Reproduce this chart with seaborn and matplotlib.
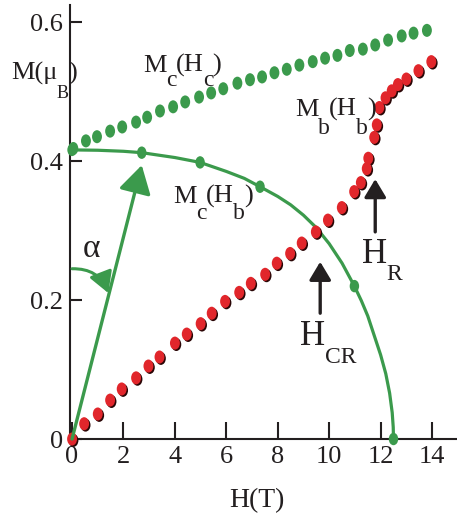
import numpy as np
import pandas as pd
import matplotlib
matplotlib.use("Agg")
import matplotlib.pyplot as plt
import seaborn as sns
from matplotlib.path import Path
from matplotlib.markers import MarkerStyle
from matplotlib import transforms

# ---- data ---------------------------------------------------------------
# M_c measured with field along c
hc_field = [0.05, 0.54, 0.97, 1.48, 1.95, 2.49, 2.92, 3.42, 3.93, 4.40, 4.94,
            5.41, 5.88, 6.43, 6.92, 7.39, 7.87, 8.35, 8.84, 9.36, 9.84, 10.32,
            10.80, 11.31, 11.79, 12.29, 12.82, 13.28, 13.80]
hc_moment = [0.418, 0.429, 0.435, 0.443, 0.449, 0.456, 0.463, 0.472, 0.478,
             0.485, 0.492, 0.498, 0.504, 0.512, 0.517, 0.521, 0.527, 0.532,
             0.538, 0.543, 0.548, 0.552, 0.559, 0.561, 0.567, 0.574, 0.580,
             0.584, 0.588]

# M_b measured with field along b
hb_field = [0.0, 0.47, 1.0, 1.48, 1.93, 2.49, 2.97, 3.40, 4.0, 4.46, 5.0, 5.43,
            5.95, 6.5, 6.95, 7.51, 7.96, 8.48, 8.93, 9.48, 9.95, 10.49, 10.97,
            11.23, 11.46, 11.52, 11.75, 11.85, 11.95, 12.19, 12.43, 12.67,
            13.0, 13.47, 13.97]
hb_moment = [0.0, 0.022, 0.036, 0.056, 0.072, 0.088, 0.105, 0.118, 0.138,
             0.151, 0.166, 0.181, 0.198, 0.211, 0.224, 0.237, 0.253, 0.267,
             0.282, 0.298, 0.315, 0.333, 0.356, 0.369, 0.389, 0.404, 0.434,
             0.452, 0.477, 0.491, 0.501, 0.510, 0.518, 0.530, 0.543]

# M_c component while the field is along b: guide curve and its points
mcb_curve_field = [0.0, 1.0, 2.0, 2.71, 4.0, 4.98, 6.0, 6.7, 7.31, 8.0, 8.5,
                   9.0, 9.5, 10.0, 10.5, 10.98, 11.25, 11.5, 11.75, 12.0,
                   12.2, 12.35, 12.45, 12.49, 12.5]
mcb_curve_moment = [0.416, 0.4155, 0.414, 0.412, 0.405, 0.398, 0.385, 0.375,
                    0.363, 0.349, 0.337, 0.322, 0.304, 0.281, 0.253, 0.220,
                    0.199, 0.177, 0.149, 0.121, 0.094, 0.066, 0.038, 0.017,
                    0.0]
mcb_pts_field = [0.0, 2.71, 4.98, 7.31, 10.98, 12.5]
mcb_pts_moment = [0.416, 0.412, 0.398, 0.363, 0.220, 0.0]

# moment direction arrow and field markers
moment_tip = (2.71, 0.394)
alpha_arc = [(0.0, 0.245), (1.41, 0.21)]
h_cr = (9.65, 0.181, 0.255)
h_r = (11.79, 0.298, 0.374)

x_ticks = [0, 2, 4, 6, 8, 10, 12, 14]
y_ticks = [0, 0.2, 0.4, 0.6]
y_tick_labels = ["0", "0.2", "0.4", "0.6"]

# ---- style ----------------------------------------------------------------
GREEN = "#3b9a4c"
RED = "#e1262b"
SHADOW = "#2a0606"
INK = "#231f20"

sns.set_style("ticks")
plt.rcParams["font.family"] = ["Liberation Serif", "DejaVu Serif"]

fig = plt.figure(figsize=(4.57, 5.21), dpi=100)
ax = fig.add_axes([70 / 457, 82 / 521, 387 / 457, 434 / 521])

circ = Path.unit_circle()
oval = MarkerStyle(Path(circ.vertices * np.array([0.76, 1.0]), circ.codes))

df_c = pd.DataFrame({"H": hc_field, "M": hc_moment})
df_b = pd.DataFrame({"H": hb_field, "M": hb_moment})
df_curve = pd.DataFrame({"H": mcb_curve_field, "M": mcb_curve_moment})
df_pts = pd.DataFrame({"H": mcb_pts_field, "M": mcb_pts_moment})

# M_c(H_b) guide line
sns.lineplot(data=df_curve, x="H", y="M", ax=ax, color=GREEN, lw=2.3,
             sort=False, estimator=None, zorder=3)
sns.scatterplot(data=df_pts, x="H", y="M", ax=ax, marker=oval, s=80,
                color=GREEN, edgecolor="none", linewidth=0, zorder=4,
                clip_on=False)

# M_c(H_c)
sns.scatterplot(data=df_c, x="H", y="M", ax=ax, marker=oval, s=88,
                color=GREEN, edgecolor="none", linewidth=0, zorder=4,
                clip_on=False)

# M_b(H_b) with a small drop shadow
shadow_tf = transforms.offset_copy(ax.transData, fig=fig, x=1.4, y=-1.4,
                                   units="dots")
sns.scatterplot(data=df_b, x="H", y="M", ax=ax, marker=oval, s=88,
                color=SHADOW, edgecolor="none", linewidth=0, zorder=4,
                clip_on=False, transform=shadow_tf)
sns.scatterplot(data=df_b, x="H", y="M", ax=ax, marker=oval, s=88,
                color=RED, edgecolor="none", linewidth=0, zorder=5,
                clip_on=False)

# moment arrow and the angle alpha
ax.annotate("", xy=moment_tip, xytext=(0, 0),
            arrowprops=dict(arrowstyle="-|>,head_length=0.85,head_width=0.5",
                            color=GREEN, lw=2.4, shrinkA=0, shrinkB=0,
                            mutation_scale=20), zorder=6)
ax.annotate("", xy=alpha_arc[1], xytext=alpha_arc[0],
            arrowprops=dict(arrowstyle="-|>,head_length=0.7,head_width=0.4",
                            color=GREEN, lw=2.2, shrinkA=0, shrinkB=0,
                            mutation_scale=18,
                            connectionstyle="arc3,rad=-0.35"), zorder=6)

# critical field arrows
for hx, y0, y1 in (h_cr, h_r):
    ax.annotate("", xy=(hx, y1), xytext=(hx, y0),
                arrowprops=dict(arrowstyle="-|>,head_length=0.55,head_width=0.33",
                                color=INK, lw=2.4, shrinkA=0, shrinkB=0,
                                mutation_scale=20), zorder=6)


def sub_label(x, y, pieces):
    """Write text pieces side by side; each piece is (text, size, drop)."""
    prev = None
    prev_drop = 0
    for txt, size, drop in pieces:
        if prev is None:
            prev = ax.text(x, y, txt, fontsize=size, color=INK, ha="left",
                           va="baseline", clip_on=False, zorder=7)
        else:
            prev = ax.annotate(txt, xy=(1, 0), xycoords=prev,
                               xytext=(-0.5, -(drop - prev_drop)),
                               textcoords="offset points", fontsize=size,
                               color=INK, ha="left", va="bottom",
                               annotation_clip=False, zorder=7)
        prev_drop = drop


sub_label(-2.38, 0.517, [("M(μ", 19, 0), ("B", 13, 12), (")", 19, 0)])
sub_label(2.76, 0.528, [("M", 19, 0), ("c", 17, 10), ("(H", 19, 0),
                         ("c", 17, 10), (")", 19, 0)])
sub_label(8.67, 0.465, [("M", 19, 0), ("b", 17, 13), ("(H", 19, 0),
                         ("b", 17, 13), (")", 19, 0)])
sub_label(3.93, 0.340, [("M", 19, 0), ("c", 17, 12), ("(H", 19, 0),
                         ("b", 17, 12), (")", 19, 0)])
sub_label(11.28, 0.253, [("H", 25, 0), ("R", 17, 10)])
sub_label(8.87, 0.135, [("H", 25, 0), ("CR", 17, 11)])
ax.text(0.43, 0.262, "α", fontsize=24, color=INK, ha="left", va="baseline",
        zorder=7)

# ---- axes -----------------------------------------------------------------
ax.set_xlim(-0.08, 14.97)
ax.set_ylim(0, 0.6245)
ax.set_xticks(x_ticks)
ax.set_xticklabels([str(t) for t in x_ticks])
ax.set_yticks(y_ticks)
ax.set_yticklabels(y_tick_labels)
ax.tick_params(axis="x", direction="in", length=12, width=1.5, pad=5,
               labelsize=19, colors=INK)
ax.tick_params(axis="y", direction="in", length=8.5, width=1.5, pad=5,
               labelsize=19, colors=INK)
sns.despine(ax=ax)
for side in ("left", "bottom"):
    ax.spines[side].set_linewidth(1.5)
    ax.spines[side].set_color(INK)
ax.set_xlabel("H(T)", fontsize=20, color=INK)
ax.xaxis.set_label_coords(0.483, -0.112)
ax.set_ylabel("")
ax.patch.set_alpha(0)

fig.savefig("out.png", dpi=100)
